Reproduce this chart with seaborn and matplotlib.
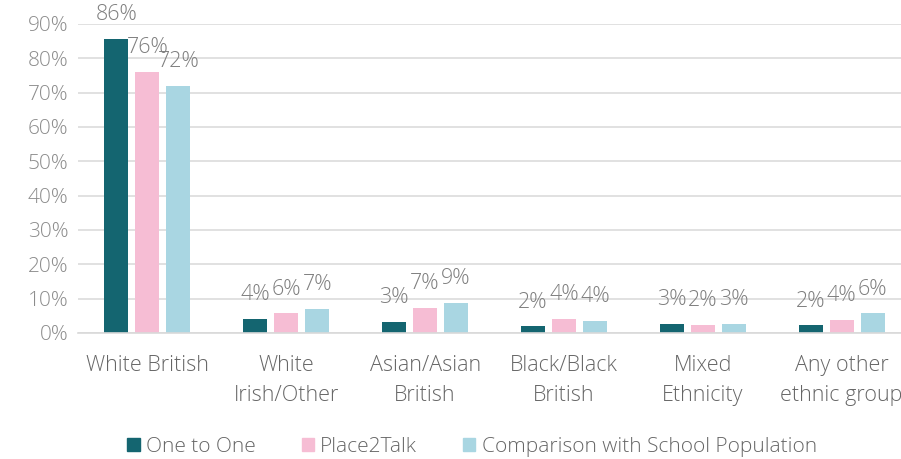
import matplotlib
matplotlib.use("Agg")
import matplotlib.pyplot as plt
import seaborn as sns
import pandas as pd

categories = ["White British", "White\nIrish/Other", "Asian/Asian\nBritish",
              "Black/Black\nBritish", "Mixed\nEthnicity", "Any other\nethnic group"]
series = ["One to One", "Place2Talk", "Comparison with School Population"]
one_to_one = [85.6, 4.0, 3.2, 1.9, 2.7, 2.2]
place2talk = [76.0, 5.7, 7.3, 4.2, 2.3, 3.7]
comparison = [72.0, 7.1, 8.8, 3.5, 2.6, 5.7]
one_labels = ["86%", "4%", "3%", "2%", "3%", "2%"]
p2t_labels = ["76%", "6%", "7%", "4%", "2%", "4%"]
comp_labels = ["72%", "7%", "9%", "4%", "3%", "6%"]
yticks = [0, 10, 20, 30, 40, 50, 60, 70, 80, 90]

colors = ["#146570", "#F6BDD4", "#A9D6E2"]

sns.set_theme(style="white")
plt.rcParams['font.family'] = ['Open Sans', 'DejaVu Sans']

df = pd.DataFrame({
    "category": categories * 3,
    "series": [series[0]] * 6 + [series[1]] * 6 + [series[2]] * 6,
    "value": one_to_one + place2talk + comparison,
})

fig = plt.figure(figsize=(9.01, 4.59), dpi=100)
ax = fig.add_axes([78 / 901, (459 - 333) / 459, 833 / 901, (333 - 24) / 459])

sns.barplot(data=df, x="category", y="value", hue="series", hue_order=series,
            palette=colors, width=0.67, gap=0.23, ax=ax, legend=False,
            errorbar=None, saturation=1, linewidth=0)

label_sets = [one_labels, p2t_labels, comp_labels]
for cont, labs in zip(ax.containers, label_sets):
    ax.bar_label(cont, labels=labs, padding=10, fontsize=15.5, color="#7f7f7f",
                 fontweight="light", clip_on=False)

ax.set_ylim(0, 90)
ax.set_yticks(yticks)
ax.set_yticklabels([f"{t}%" for t in yticks], fontsize=15, color="#8c8c8c",
                   fontweight="light")
ax.set_xlim(-0.5, 5.5)
ax.set_xlabel("")
ax.set_ylabel("")
ax.tick_params(axis="x", length=0, pad=16, labelsize=15.5, labelcolor="#666666")
ax.tick_params(axis="y", length=0, pad=7)
for lab in ax.get_xticklabels():
    lab.set_linespacing(1.55)
    lab.set_fontweight("light")
ax.yaxis.grid(True, color="#dcdcdc", linewidth=1.2)
ax.set_axisbelow(True)
for s in ["top", "right", "left"]:
    ax.spines[s].set_visible(False)
ax.spines["bottom"].set_color("#d9d9d9")
ax.spines["bottom"].set_linewidth(1.2)

handles = [plt.Rectangle((0, 0), 1, 1, color=c) for c in colors]
fig.legend(handles, series, loc="center", bbox_to_anchor=(472 / 901, 1 - 447 / 459),
           ncol=3, frameon=False, handlelength=0.6, handleheight=0.6,
           handletextpad=0.3, columnspacing=2.2, labelcolor="#666666",
           prop={"weight": "light", "size": 15})

fig.savefig("out.png", dpi=100)
